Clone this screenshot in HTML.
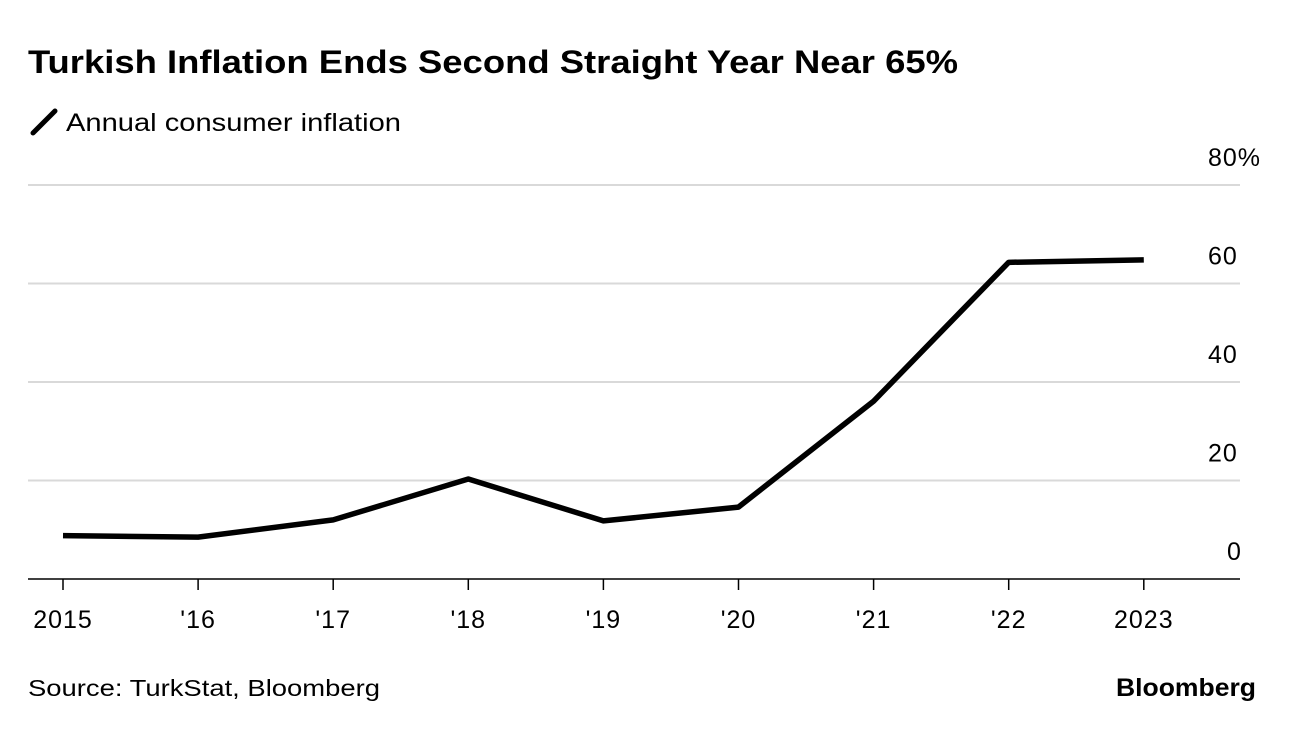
<!DOCTYPE html>
<html><head><meta charset="utf-8"><style>
body{margin:0;background:#fff;width:1296px;height:728px;overflow:hidden;font-family:"Liberation Sans",sans-serif;}
</style></head><body>
<svg width="1296" height="728" xmlns="http://www.w3.org/2000/svg">
<text x="28" y="73" font-size="32" font-weight="bold" fill="#000" textLength="930" lengthAdjust="spacingAndGlyphs">Turkish Inflation Ends Second Straight Year Near 65%</text>
<g>
<line x1="33" y1="133" x2="55" y2="111" stroke="#000" stroke-width="5" stroke-linecap="round"/>
<text x="66" y="131" font-size="25" fill="#000" textLength="335" lengthAdjust="spacingAndGlyphs">Annual consumer inflation</text>
</g>
<g id="grid"></g><g id="yl"></g><g id="xl"></g>
<path id="line" fill="none" stroke="#000" stroke-width="5.5" stroke-linejoin="round"/>
<text x="28" y="696" font-size="23" fill="#000" textLength="352" lengthAdjust="spacingAndGlyphs">Source: TurkStat, Bloomberg</text>
<text x="1116" y="696" font-size="25" font-weight="bold" fill="#000" textLength="140" lengthAdjust="spacingAndGlyphs">Bloomberg</text>
</svg>
<script>
const categories=["2015","'16","'17","'18","'19","'20","'21","'22","2023"];
const values=[8.8,8.5,12.0,20.3,11.8,14.6,36.1,64.3,64.8];
const yTicks=[0,20,40,60,80];
const yTickLabels=["0","20","40","60","80%"];
const NS="http://www.w3.org/2000/svg";
const x=i=>63+i*135.1;
const y=v=>579-v*4.925;
const grid=document.getElementById('grid'),yl=document.getElementById('yl'),xl=document.getElementById('xl');
yTicks.forEach((t,i)=>{
 const l=document.createElementNS(NS,'line');
 l.setAttribute('x1',28);l.setAttribute('x2',1240);l.setAttribute('y1',y(t));l.setAttribute('y2',y(t));
 l.setAttribute('stroke',t===0?'#000':'#d9d9d9');l.setAttribute('stroke-width',t===0?1.5:2);
 
 
 grid.appendChild(l);
 const tx=document.createElementNS(NS,'text');
 tx.setAttribute('x',t===0?1227:1208);tx.setAttribute('y',y(t)-19);tx.setAttribute('font-size','25');
 tx.setAttribute('letter-spacing','1');
 tx.textContent=yTickLabels[i];
 
 
 yl.appendChild(tx);
});
categories.forEach((c,i)=>{
 const tk=document.createElementNS(NS,'line');
 tk.setAttribute('x1',x(i));tk.setAttribute('x2',x(i));tk.setAttribute('y1',579);tk.setAttribute('y2',590);
 tk.setAttribute('stroke','#000');tk.setAttribute('stroke-width',1.5);
 
 
 xl.appendChild(tk);
 const tx=document.createElementNS(NS,'text');
 tx.setAttribute('x',x(i));tx.setAttribute('y',628);tx.setAttribute('font-size','25');tx.setAttribute('text-anchor','middle');
 tx.setAttribute('letter-spacing','1');
 tx.textContent=c;
 
 
 xl.appendChild(tx);
});
document.getElementById('line').setAttribute('d',values.map((v,i)=>(i?'L':'M')+x(i)+','+y(v)).join(' '));
</script>
</body></html>
